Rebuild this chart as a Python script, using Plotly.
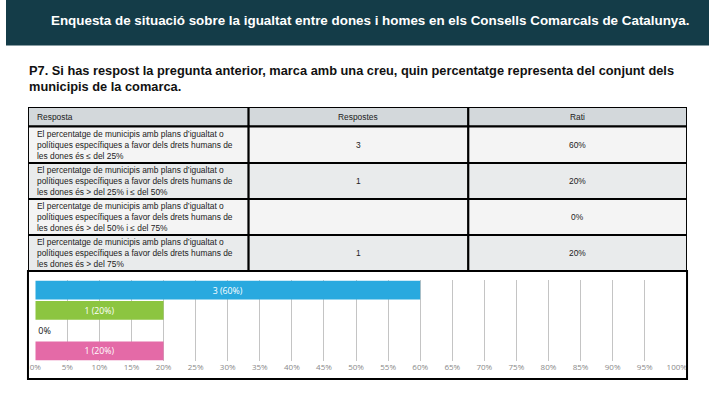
import plotly.graph_objects as go

W, H = 720, 405

title_text = "Enquesta de situació sobre la igualtat entre dones i homes en els Consells Comarcals de Catalunya."
question_lines = [
    "P7. Si has respost la pregunta anterior, marca amb una creu, quin percentatge representa del conjunt dels",
    "municipis de la comarca.",
]

table_headers = ["Resposta", "Respostes", "Rati"]
resposta_lines = [
    ["El percentatge de municipis amb plans d\u2019igualtat o",
     "polítiques específiques a favor dels drets humans de",
     "les dones és \u2264 del 25%"],
    ["El percentatge de municipis amb plans d\u2019igualtat o",
     "polítiques específiques a favor dels drets humans de",
     "les dones és > del 25% i \u2264 del 50%"],
    ["El percentatge de municipis amb plans d\u2019igualtat o",
     "polítiques específiques a favor dels drets humans de",
     "les dones és > del 50% i \u2264 del 75%"],
    ["El percentatge de municipis amb plans d\u2019igualtat o",
     "polítiques específiques a favor dels drets humans de",
     "les dones és > del 75%"],
]
counts = [3, 1, None, 1]
ratios = [60, 20, 0, 20]
bar_labels = ["3 (60%)", "1 (20%)", "0%", "1 (20%)"]
bar_colors = ["#29a9df", "#8cc540", "#ffffff", "#e46aa7"]
x_ticks = list(range(0, 101, 5))

# layout constants (pixels)
TBL_LEFT, TBL_RIGHT, TBL_TOP, TBL_BOTTOM = 22.5, 697.5, 107.0, 271.0
COL_EDGES = [0, 226, 451, 675]
ROW_EDGES = [0, 19.5, 56, 92, 128, 164]
HEADER_FILL = "#d3d8db"
ROW_FILLS = ["#f4f4f4", "#e9ebec", "#f4f4f4", "#e9ebec"]
TXT_FONT = "Liberation Sans, Arial, sans-serif"
TXT_COLOR = "#222222"


def px_x(v):
    return v / W


def px_y(v):
    return 1 - v / H


fig = go.Figure()

# bar chart
cats = ["c1", "c2", "c3", "c4"]
fig.add_trace(go.Bar(
    x=ratios,
    y=cats,
    orientation="h",
    marker=dict(color=bar_colors, line=dict(width=0)),
    text=bar_labels,
    textposition=["inside", "inside", "outside", "inside"],
    insidetextanchor="middle",
    textfont=dict(family="Open Sans, sans-serif", size=9,
                  color=["#ffffff", "#ffffff", "#111111", "#ffffff"]),
    cliponaxis=False,
    showlegend=False,
    hoverinfo="skip",
))

shapes = [
    dict(type="rect", xref="paper", yref="paper", x0=0, x1=1, y0=px_y(45.5), y1=1,
         fillcolor="#143c48", line=dict(width=0), layer="below"),
]
annotations = [
    dict(text="<b>" + title_text + "</b>", xref="paper", yref="paper",
         x=px_x(44), y=px_y(21), xanchor="left", yanchor="middle", showarrow=False,
         font=dict(family=TXT_FONT, size=13.4, color="#ffffff")),
]
for i, line in enumerate(question_lines):
    annotations.append(dict(
        text="<b>" + line + "</b>", xref="paper", yref="paper",
        x=px_x(22), y=px_y(70 + 17 * i), xanchor="left", yanchor="middle", showarrow=False,
        font=dict(family=TXT_FONT, size=12.8, color="#111111")))

# table cells drawn on their own axes (x2/y2)
n_rows = len(resposta_lines)
for r in range(n_rows + 1):
    fill = HEADER_FILL if r == 0 else ROW_FILLS[r - 1]
    for c in range(3):
        shapes.append(dict(type="rect", xref="x2", yref="y2",
                           x0=COL_EDGES[c], x1=COL_EDGES[c + 1],
                           y0=ROW_EDGES[r], y1=ROW_EDGES[r + 1],
                           fillcolor=fill, line=dict(color="#000000", width=2), layer="below"))


def cell_text(txt, c, ymid, anchor):
    x = COL_EDGES[c] + 7 if anchor == "left" else (COL_EDGES[c] + COL_EDGES[c + 1]) / 2
    annotations.append(dict(text=txt, xref="x2", yref="y2", x=x, y=ymid,
                            xanchor=anchor, yanchor="middle", showarrow=False,
                            font=dict(family=TXT_FONT, size=8.4, color=TXT_COLOR)))


hmid = (ROW_EDGES[0] + ROW_EDGES[1]) / 2
cell_text(table_headers[0], 0, hmid, "left")
cell_text(table_headers[1], 1, hmid, "center")
cell_text(table_headers[2], 2, hmid, "center")
for r in range(n_rows):
    top = ROW_EDGES[r + 1]
    mid = (ROW_EDGES[r + 1] + ROW_EDGES[r + 2]) / 2
    for k, line in enumerate(resposta_lines[r]):
        cell_text(line, 0, top + 7 + 11 * k, "left")
    if counts[r] is not None:
        cell_text(str(counts[r]), 1, mid, "center")
    cell_text(f"{ratios[r]}%", 2, mid, "center")

# frame around the chart
shapes.append(dict(type="rect", xref="paper", yref="paper", x0=px_x(22.5), x1=px_x(697.5),
                   y0=px_y(379), y1=px_y(271), line=dict(color="#000000", width=2),
                   fillcolor="rgba(0,0,0,0)", layer="above"))

fig.update_layout(
    width=W, height=H,
    margin=dict(l=0, r=0, t=0, b=0),
    paper_bgcolor="#ffffff",
    plot_bgcolor="rgba(0,0,0,0)",
    bargap=0.08,
    xaxis=dict(
        domain=[px_x(30), px_x(687)],
        range=[0, 100],
        tickvals=x_ticks,
        ticktext=[f"{t}%" for t in x_ticks],
        showgrid=True, gridcolor="#c4c4c4", gridwidth=1,
        zeroline=False, showline=False,
        tickfont=dict(family="Open Sans, sans-serif", size=8, color="#8a8a8a"),
        ticks="", fixedrange=True,
    ),
    yaxis=dict(
        domain=[px_y(361), px_y(280)],
        autorange="reversed",
        showticklabels=False, showgrid=False, zeroline=False, showline=False,
        fixedrange=True,
    ),
    xaxis2=dict(domain=[px_x(TBL_LEFT), px_x(TBL_RIGHT)], range=[0, COL_EDGES[-1]],
                visible=False, fixedrange=True, anchor="y2"),
    yaxis2=dict(domain=[px_y(TBL_BOTTOM), px_y(TBL_TOP)], range=[ROW_EDGES[-1], 0],
                visible=False, fixedrange=True, anchor="x2"),
    shapes=shapes,
    annotations=annotations,
)

fig.write_html(
    "out.html",
    config={"displayModeBar": False},
    post_script=(
        "var s=document.createElement('style');"
        "s.innerHTML='html,body{margin:0 !important;padding:0 !important;overflow:hidden;}';"
        "document.head.appendChild(s);"
    ),
)
